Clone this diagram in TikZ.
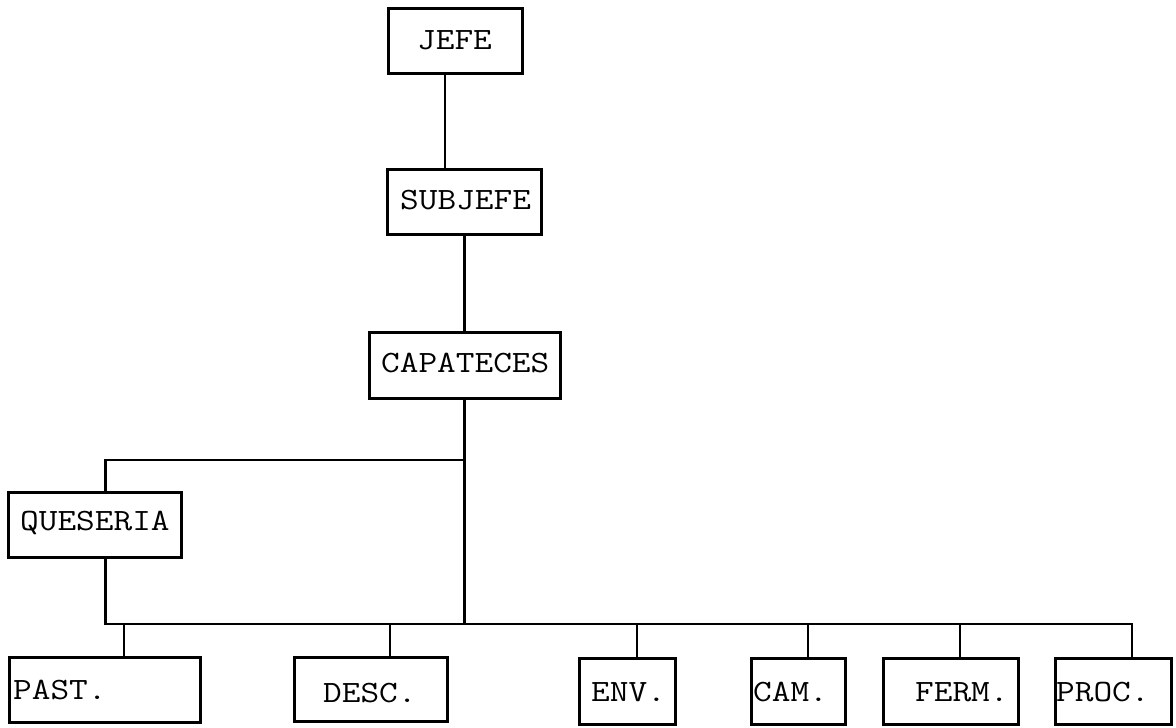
\documentclass[tikz,border=0pt]{standalone}
\usepackage{fontspec}
\newfontfamily\typew[FakeStretch=1.17]{Latin Modern Mono}
\begin{document}
\begin{tikzpicture}[x=1pt,y=-1pt,
  box/.style={draw=black, line width=3pt, fill=none},
  lbl/.style={inner sep=0pt, anchor=west, font=\typew\fontsize{31}{31}\selectfont, text height=18pt, text depth=0pt},
  conn/.style={draw=black, line width=2.8pt}]
\useasboundingbox (0,0) rectangle (1176,728);
% boxes
\node[box, minimum width=134pt, minimum height=65pt] (jefe) at (455,40.5) {};
\node[box, minimum width=154pt, minimum height=65pt] (subjefe) at (464,201.5) {};
\node[box, minimum width=191pt, minimum height=66pt] (capa) at (464.5,365) {};
\node[box, minimum width=173pt, minimum height=65pt] (ques) at (94.5,524.5) {};
\node[box, minimum width=191pt, minimum height=65pt] (past) at (104.5,689.5) {};
\node[box, minimum width=153pt, minimum height=64pt] (desc) at (370.5,689) {};
\node[box, minimum width=96pt, minimum height=66pt] (env) at (627,691) {};
\node[box, minimum width=94pt, minimum height=66pt] (cam) at (798,691) {};
\node[box, minimum width=135pt, minimum height=66pt] (ferm) at (950.5,691) {};
\node[box, minimum width=116pt, minimum height=66pt] (proc) at (1113,691) {};
% labels
\node[lbl] (tjefe) at (417,40) {JEFE};
\node[lbl] (tsub) at (400,200) {SUBJEFE};
\node[lbl] (tcapa) at (381,363) {CAPATECES};
\node[lbl] (tques) at (20,521) {QUESERIA};
\node[lbl] (tpast) at (13,690) {PAST.};
\node[lbl] (tdesc) at (323,693) {DESC.};
\node[lbl] (tenv) at (591,692) {ENV.};
\node[lbl] (tcam) at (753,692) {CAM.};
\node[lbl] (tferm) at (915,692) {FERM.};
\node[lbl] (tproc) at (1056,692) {PROC.};
% reference coordinates
\coordinate (xa) at (445,0);
\coordinate (xb) at (464.5,0);
\coordinate (xq) at (105.5,0);
\coordinate (branch) at (464.5,460);
\coordinate (busL) at (105.5,624);
\coordinate (busM) at (464.5,624);
\coordinate (busR) at (1132,624);
\coordinate (xpast) at (124,0);
\coordinate (xdesc) at (390,0);
\coordinate (xenv) at (637,0);
\coordinate (xcam) at (808,0);
\coordinate (xferm) at (960,0);
% connectors
\draw[conn] (jefe.south -| xa) -- (subjefe.north -| xa);
\draw[conn] (subjefe.south -| xb) -- (capa.north -| xb);
\draw[conn] (capa.south -| xb) -- (busM);
\draw[conn] (branch) -- (branch -| xq) -- (ques.north -| xq);
\draw[conn] (ques.south -| xq) -- (busL) -- (busR) -- (proc.north -| busR);
\draw[conn] (busL -| xpast) -- (past.north -| xpast);
\draw[conn] (busL -| xdesc) -- (desc.north -| xdesc);
\draw[conn] (busL -| xenv) -- (env.north -| xenv);
\draw[conn] (busL -| xcam) -- (cam.north -| xcam);
\draw[conn] (busL -| xferm) -- (ferm.north -| xferm);
\end{tikzpicture}
\end{document}
